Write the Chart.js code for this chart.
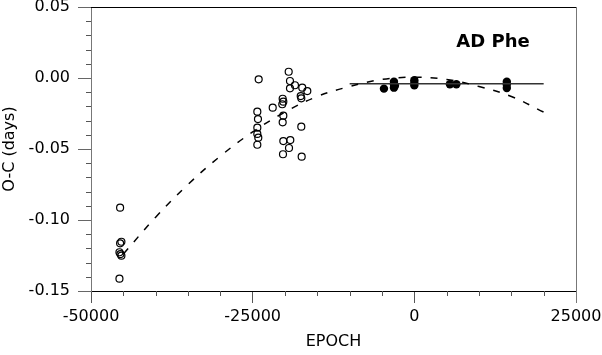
<!DOCTYPE html>
<html>
<head>
<meta charset="utf-8">
<script src="https://cdn.jsdelivr.net/npm/chart.js@4"></script>
<style>
  body { margin: 0; background: #fff; }
  #wrap { width: 602px; height: 355px; }
</style>
</head>
<body>
<div id="wrap"><canvas id="oc" width="602" height="355"></canvas></div>
<script>
// open circles: old timings
const oldEpoch = [-45500, -45300, -45500, -45600, -45300, -45450, -45600,
  -24070, -19430, -19230, -19230, -18460, -17330, -16550, -17570, -17480,
  -20360, -20260, -20420, -21900, -24280, -20260, -24180, -20360, -24280,
  -17480, -24280, -24130, -24280, -20260, -19180, -19380, -20310, -17420];
const oldOC = [-0.0913, -0.1153, -0.1164, -0.1227, -0.1251, -0.1240, -0.1413,
  -0.0009, 0.0044, -0.0021, -0.0073, -0.0051, -0.0068, -0.0092, -0.0127, -0.0143,
  -0.0146, -0.0167, -0.0185, -0.0209, -0.0237, -0.0265, -0.0289, -0.0312, -0.0350,
  -0.0343, -0.0394, -0.0420, -0.0470, -0.0444, -0.0437, -0.0493, -0.0537, -0.0554];

// filled circles: recent timings
const newEpoch = [-4700, -3150, -3150, -3150, -3000, 0, 0, 0, 5500, 6500, 14300, 14300, 14300];
const newOC = [-0.0075, -0.0026, -0.0045, -0.0068, -0.0055, -0.0016, -0.0035, -0.0052,
  -0.0044, -0.0044, -0.0026, -0.0046, -0.0070];

// dashed curve
const fitEpoch = [-45000, -40000, -35000, -30000, -25000, -20000, -15000, -10000, -5000, 0, 5000, 10000, 15000, 20000];
const fitOC = [-0.124, -0.098, -0.075, -0.055, -0.038, -0.024, -0.013, -0.006, -0.001, 0.0005, -0.001, -0.006, -0.013, -0.024];

// solid line
const meanEpoch = [-10000, 20000];
const meanOC = [-0.004, -0.004];

const xTicks = [-50000, -25000, 0, 25000];
const yTicks = [0.05, 0.00, -0.05, -0.10, -0.15];

const FONT = "'DejaVu Sans', sans-serif";

const zip = (xs, ys) => xs.map((x, i) => ({ x: x, y: ys[i] }));

// minor ticks, top/right frame and the star label
const extras = {
  id: 'extras',
  afterDraw(chart) {
    const { ctx, chartArea: a, scales: { x, y } } = chart;
    ctx.save();
    ctx.lineWidth = 1;

    ctx.strokeStyle = '#555';
    ctx.beginPath();
    for (let i = -10; i <= 5; i++) {
      const v = i * 5000;
      if (v % 25000 === 0) continue;
      const px = Math.round(x.getPixelForValue(v)) + 0.5;
      ctx.moveTo(px, a.bottom);
      ctx.lineTo(px, a.bottom + 5);
    }
    for (let i = -15; i <= 5; i++) {
      if (i % 5 === 0) continue;
      const py = Math.round(y.getPixelForValue(i / 100)) + 0.5;
      ctx.moveTo(a.left - 5, py);
      ctx.lineTo(a.left, py);
    }
    ctx.stroke();

    ctx.strokeStyle = '#000';
    ctx.beginPath();
    ctx.moveTo(a.left, Math.round(a.top) + 0.5);
    ctx.lineTo(a.right, Math.round(a.top) + 0.5);
    ctx.stroke();
    ctx.strokeStyle = '#777';
    ctx.beginPath();
    ctx.moveTo(Math.round(a.right) + 0.5, a.top);
    ctx.lineTo(Math.round(a.right) + 0.5, a.bottom + 12);
    ctx.stroke();

    ctx.fillStyle = '#000';
    ctx.font = "bold 18px " + FONT;
    ctx.textAlign = 'center';
    ctx.textBaseline = 'middle';
    ctx.fillText('AD Phe', a.right - 83, a.top + 35);
    ctx.restore();
  }
};

new Chart(document.getElementById('oc'), {
  type: 'scatter',
  data: {
    datasets: [
      {
        label: 'fit',
        type: 'line',
        data: zip(fitEpoch, fitOC),
        borderColor: '#000',
        borderWidth: 1.5,
        borderDash: [7, 9],
        pointRadius: 0,
        tension: 0.4,
        fill: false
      },
      {
        label: 'mean',
        type: 'line',
        data: zip(meanEpoch, meanOC),
        borderColor: '#333',
        borderWidth: 1.5,
        pointRadius: 0,
        fill: false
      },
      {
        label: 'old',
        data: zip(oldEpoch, oldOC),
        pointRadius: 3.5,
        pointBorderWidth: 1.2,
        pointBorderColor: '#000',
        pointBackgroundColor: 'rgba(0,0,0,0)'
      },
      {
        label: 'new',
        data: zip(newEpoch, newOC),
        pointRadius: 4.2,
        pointBorderWidth: 0,
        pointBackgroundColor: '#000'
      }
    ]
  },
  options: {
    responsive: false,
    animation: false,
    devicePixelRatio: 1,
    layout: { padding: { top: 7, right: 26, left: 0, bottom: 0 } },
    plugins: {
      legend: { display: false },
      tooltip: { enabled: false }
    },
    scales: {
      x: {
        type: 'linear',
        min: -50000,
        max: 25000,
        afterBuildTicks: (s) => { s.ticks = xTicks.map(v => ({ value: v })); },
        afterFit: (s) => { s.height = 64; s.paddingLeft = 0; s.paddingRight = 0; },
        ticks: {
          color: '#000',
          font: { family: FONT, size: 16 },
          padding: 4,
          maxRotation: 0,
          callback: (v) => String(v)
        },
        grid: { drawOnChartArea: false, tickLength: 12, tickColor: '#555' },
        border: { color: '#000', width: 1 },
        title: {
          display: true,
          text: 'EPOCH',
          color: '#000',
          font: { family: FONT, size: 16 },
          padding: { top: 0, bottom: 4 }
        }
      },
      y: {
        type: 'linear',
        min: -0.15,
        max: 0.05,
        afterBuildTicks: (s) => { s.ticks = yTicks.map(v => ({ value: v })); },
        afterFit: (s) => { s.width = 91; s.paddingTop = 0; s.paddingBottom = 0; },
        ticks: {
          color: '#000',
          font: { family: FONT, size: 16 },
          padding: 8,
          callback: (v) => (Math.abs(v) < 1e-9 ? 0 : v).toFixed(2)
        },
        grid: { drawOnChartArea: false, tickLength: 13, tickColor: '#666' },
        border: { color: '#777', width: 1 },
        title: {
          display: true,
          text: 'O-C (days)',
          color: '#000',
          font: { family: FONT, size: 16 },
          padding: { top: 0, bottom: 0 }
        }
      }
    }
  },
  plugins: [extras]
});
</script>
</body>
</html>
